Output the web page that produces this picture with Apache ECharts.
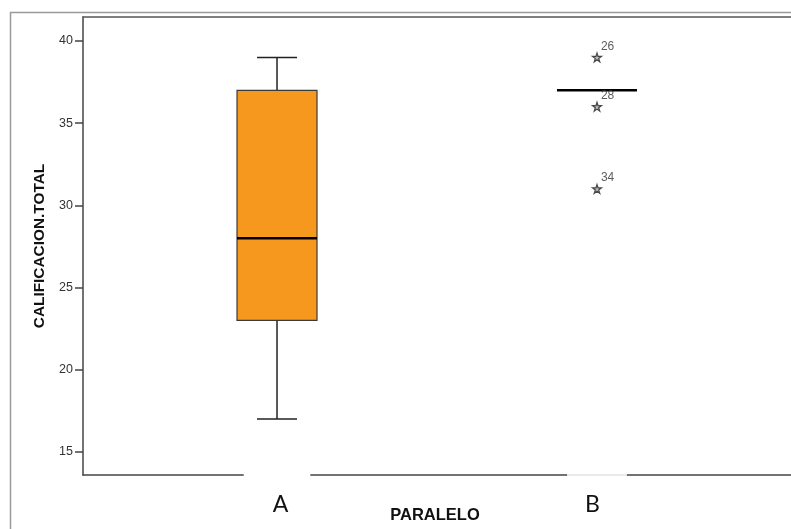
<!DOCTYPE html>
<html>
<head>
<meta charset="utf-8">
<script src="https://cdn.jsdelivr.net/npm/echarts@6/dist/echarts.min.js"></script>
<style>html,body{margin:0;padding:0;background:#fff;}#c{width:791px;height:529px;}</style>
</head>
<body>
<div id="c"></div>
<script>
const categories = ['A', 'B'];
const boxLow = [17, 37];
const boxQ1 = [23, 37];
const boxMedian = [28, 37];
const boxQ3 = [37, 37];
const boxHigh = [39, 37];
const outlierCategory = ['B', 'B', 'B'];
const outlierValue = [39, 36, 31];
const outlierCase = ['26', '28', '34'];
const yTicks = [15, 20, 25, 30, 35, 40];
const yTitle = 'CALIFICACION.TOTAL';
const xTitle = 'PARALELO';

const boxData = categories.map((c, i) => [i, boxLow[i], boxQ1[i], boxMedian[i], boxQ3[i], boxHigh[i]]);
const outlierData = outlierValue.map((v, i) => ({
  value: [categories.indexOf(outlierCategory[i]), v],
  label: { formatter: outlierCase[i] }
}));

const starPath = 'path://M50,0 L61.8,35.4 L100,35.4 L69.1,57.3 L80.9,93.3 L50,71.3 L19.1,93.3 L30.9,57.3 L0,35.4 L38.2,35.4 Z';

const chart = echarts.init(document.getElementById('c'), null, { renderer: 'canvas' });
const xMin = -0.6063, xMax = 1.6219;
chart.setOption({
  animation: false,
  backgroundColor: '#fff',
  graphic: [{
    type: 'rect', z: -10, silent: true,
    shape: { x: 10.5, y: 12.5, width: 900, height: 700 },
    style: { fill: 'none', stroke: '#9a9a9a', lineWidth: 1.5 }
  }],
  grid: { left: 83, top: 17, bottom: 54, right: -5, containLabel: false, outerBoundsMode: 'none' },
  xAxis: [{
    type: 'value', min: xMin, max: xMax,
    splitLine: { show: false },
    axisTick: { show: false },
    axisLine: { show: true, onZero: false, lineStyle: { color: '#444', width: 1.5 } },
    axisLabel: {
      customValues: [0, 1],
      margin: -3,
      formatter: v => (Math.round(v) === 0 ? '{a|' : '{b|') + categories[Math.round(v)] + '}',
      rich: {
        a: { backgroundColor: '#fff', padding: [21, 22, 6, 29], fontSize: 23, fontFamily: 'Lato', color: '#111' },
        b: { backgroundColor: 'rgba(255,255,255,0.85)', padding: [21, 27, 6, 18], fontSize: 23, fontFamily: 'Lato', color: '#111' }
      }
    },
    name: xTitle, nameLocation: 'middle', nameGap: 32, nameMoveOverlap: false,
    nameTextStyle: { fontFamily: 'Liberation Sans', fontWeight: 'bold', fontSize: 16.5, color: '#111', padding: [0, 9, 0, 0] }
  }, {
    type: 'value', position: 'top', min: xMin, max: xMax,
    splitLine: { show: false }, axisTick: { show: false }, axisLabel: { show: false },
    axisLine: { show: true, onZero: false, lineStyle: { color: '#555', width: 1.5 } }
  }],
  yAxis: {
    type: 'value', min: 13.6, max: 41.46,
    splitLine: { show: false },
    axisLine: { show: true, onZero: false, lineStyle: { color: '#444', width: 1.5 } },
    axisTick: { show: true, length: 8, customValues: yTicks, lineStyle: { color: '#444', width: 1.5 } },
    axisLabel: { customValues: yTicks, margin: 10, fontSize: 12.5, fontFamily: 'Liberation Sans', color: '#333' },
    name: yTitle, nameLocation: 'middle', nameGap: 35.5, nameMoveOverlap: false,
    nameTextStyle: { fontFamily: 'Liberation Sans', fontWeight: 'bold', fontSize: 15.4, color: '#111' }
  },
  series: [{
    type: 'custom',
    data: boxData,
    encode: { x: 0, y: [1, 2, 3, 4, 5] },
    z: 3,
    renderItem: function (params, api) {
      const x = api.value(0);
      const lo = api.value(1), q1 = api.value(2), md = api.value(3), q3 = api.value(4), hi = api.value(5);
      const unit = api.size([1, 0])[0];
      const bw = unit * 0.25, cw = bw / 2;
      const pLo = api.coord([x, lo]), pQ1 = api.coord([x, q1]), pMd = api.coord([x, md]);
      const pQ3 = api.coord([x, q3]), pHi = api.coord([x, hi]);
      const cx = pMd[0];
      const ls = { stroke: '#222', lineWidth: 1.5 };
      const children = [];
      if (hi > q3) {
        children.push({ type: 'line', shape: { x1: cx, y1: pHi[1], x2: cx, y2: pQ3[1] }, style: ls });
        children.push({ type: 'line', shape: { x1: cx - cw / 2, y1: pHi[1], x2: cx + cw / 2, y2: pHi[1] }, style: ls });
      }
      if (lo < q1) {
        children.push({ type: 'line', shape: { x1: cx, y1: pLo[1], x2: cx, y2: pQ1[1] }, style: ls });
        children.push({ type: 'line', shape: { x1: cx - cw / 2, y1: pLo[1], x2: cx + cw / 2, y2: pLo[1] }, style: ls });
      }
      if (q3 > q1) {
        children.push({ type: 'rect', shape: { x: cx - bw / 2, y: pQ3[1], width: bw, height: pQ1[1] - pQ3[1] },
          style: { fill: '#f7981e', stroke: '#3a3a3a', lineWidth: 1.2 } });
      }
      children.push({ type: 'line', shape: { x1: cx - bw / 2, y1: pMd[1], x2: cx + bw / 2, y2: pMd[1] },
        style: { stroke: '#000', lineWidth: 2.5 } });
      return { type: 'group', children: children };
    }
  }, {
    type: 'scatter',
    data: outlierData,
    symbol: starPath,
    symbolSize: 9,
    z: 4,
    itemStyle: { color: '#aaa', borderColor: '#222', borderWidth: 1.2 },
    label: { show: true, position: [9, -12], fontSize: 12, fontFamily: 'Liberation Sans', color: '#333' }
  }]
});
</script>
</body>
</html>
